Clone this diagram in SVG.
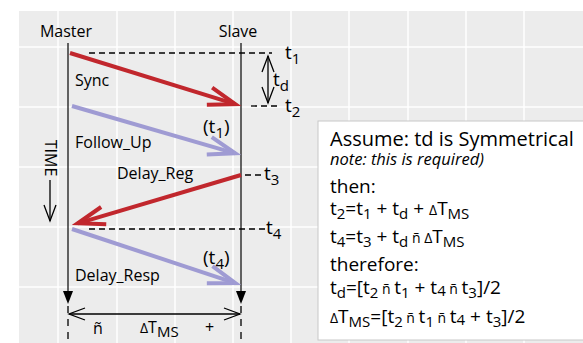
<svg xmlns="http://www.w3.org/2000/svg" width="583" height="343" viewBox="0 0 583 343">
<defs>
<style>
text{font-family:"Open Sans","Liberation Sans",sans-serif;fill:#000}
.lbl{font-size:16px}
.tl{font-size:19px}
.sb{font-size:15px}
.hd{font-size:20px}
.bd{font-size:19px}
.it{font-size:16.5px;font-style:italic}
.fs{font-size:15px}
.sm{font-size:14px}
.grid{stroke:#fff;stroke-width:1.5}
.life{stroke:#333;stroke-width:1.5;fill:none}
.dash{stroke:#000;stroke-width:1.3;stroke-dasharray:6 4;fill:none}
.thin{stroke:#000;stroke-width:1.3;fill:none}
.red{stroke:#c1272d;stroke-width:4;fill:none;marker-end:url(#ar)}
.lav{stroke:#9f9bd3;stroke-width:4;fill:none;marker-end:url(#al)}
.dbl{stroke:#000;stroke-width:1.3;fill:none;marker-start:url(#av);marker-end:url(#av)}
</style>
<marker id="ar" markerUnits="userSpaceOnUse" orient="auto" overflow="visible" refX="0" refY="0" markerWidth="40" markerHeight="40"><path d="M-27,-9 L0,0 L-27,9" fill="none" stroke="#c1272d" stroke-width="4"/></marker>
<marker id="al" markerUnits="userSpaceOnUse" orient="auto" overflow="visible" refX="0" refY="0" markerWidth="40" markerHeight="40"><path d="M-27,-9 L0,0 L-27,9" fill="none" stroke="#9f9bd3" stroke-width="4"/></marker>
<marker id="av" markerUnits="userSpaceOnUse" orient="auto-start-reverse" overflow="visible" refX="0" refY="0" markerWidth="30" markerHeight="30"><path d="M-16,-6 L0,0 L-16,6" fill="none" stroke="#000" stroke-width="1.3"/></marker>
</defs>
<g id="background">
<rect x="19" y="11" width="564" height="332" fill="#ececec"/>
<g class="grid">
<line x1="58" y1="11" x2="58" y2="343"/>
<line x1="117" y1="11" x2="117" y2="343"/>
<line x1="175" y1="11" x2="175" y2="343"/>
<line x1="233" y1="11" x2="233" y2="343"/>
<line x1="291" y1="11" x2="291" y2="343"/>
<line x1="349" y1="11" x2="349" y2="343"/>
<line x1="408" y1="11" x2="408" y2="343"/>
<line x1="466" y1="11" x2="466" y2="343"/>
<line x1="524" y1="11" x2="524" y2="343"/>
<line x1="19" y1="47" x2="583" y2="47"/>
<line x1="19" y1="107" x2="583" y2="107"/>
<line x1="19" y1="167" x2="583" y2="167"/>
<line x1="19" y1="227" x2="583" y2="227"/>
<line x1="19" y1="287" x2="583" y2="287"/>
</g>
</g>
<g id="master">
<text class="lbl" x="66" y="36.5" text-anchor="middle">Master</text>
<line class="life" x1="68" y1="43" x2="68" y2="292"/>
<path d="M63,291 L73,291 L68,304 Z" fill="#000"/>
<line class="thin" x1="68" y1="306" x2="68" y2="343" stroke-dasharray="7 6"/>
</g>
<g id="slave">
<text class="lbl" x="238" y="36.5" text-anchor="middle">Slave</text>
<line class="life" x1="241" y1="43" x2="241" y2="292"/>
<path d="M236,291 L246,291 L241,304 Z" fill="#000"/>
<line class="thin" x1="241" y1="306" x2="241" y2="343" stroke-dasharray="7 6"/>
</g>
<g id="time">
<text class="lbl" transform="translate(44.5,158) rotate(90)" text-anchor="middle">TIME</text>
<line class="thin" x1="50" y1="180" x2="50" y2="221" marker-end="url(#av)"/>
</g>
<g id="connectors">
<line class="dash" x1="89" y1="53" x2="272" y2="53"/>
<line class="dash" x1="251" y1="106" x2="281" y2="106"/>
<line class="dash" x1="245" y1="175" x2="263" y2="175"/>
<line class="dash" x1="89" y1="229" x2="265" y2="229"/>
<line class="dbl" x1="268" y1="56" x2="268" y2="103"/>
<line class="dbl" x1="69" y1="314" x2="240" y2="314"/>
<path class="red" d="M70,53 L235.3,104.2"/>
<path class="lav" d="M72,106 L235.2,153.3"/>
<path class="red" d="M241,175 L77.8,223.3"/>
<path class="lav" d="M72,229 L235.3,283.1"/>
</g>
<g id="labels">
<text class="lbl" x="75" y="86">Sync</text>
<text class="lbl" x="75" y="148">Follow_Up</text>
<text class="lbl" x="117" y="179">Delay_Reg</text>
<text class="lbl" x="75" y="281">Delay_Resp</text>
<text class="tl" x="285" y="59">t<tspan class="sb" dy="5">1</tspan></text>
<text class="tl" x="273" y="86">t<tspan class="sb" dy="5">d</tspan></text>
<text class="tl" x="285" y="112">t<tspan class="sb" dy="5">2</tspan></text>
<text class="tl" x="203" y="133">(t<tspan class="sb" dy="5">1</tspan><tspan dy="-5">)</tspan></text>
<text class="tl" x="264" y="180">t<tspan class="sb" dy="5">3</tspan></text>
<text class="tl" x="266" y="234">t<tspan class="sb" dy="5">4</tspan></text>
<text class="tl" x="203" y="264">(t<tspan class="sb" dy="5">4</tspan><tspan dy="-5">)</tspan></text>
<text class="lbl" x="93" y="334" font-size="17">ñ</text>
<text class="lbl" x="140" y="333" font-size="17"><tspan class="sm">Δ</tspan>T<tspan class="sb" dy="4">MS</tspan></text>
<text class="lbl" x="205" y="333" font-size="17">+</text>
</g>
<g id="note">
<rect x="318" y="121" width="270" height="219" fill="#fff" stroke="#c8c8c8" stroke-width="1"/>
<text class="hd" x="330" y="146">Assume: td is Symmetrical</text>
<text class="it" x="330" y="165">note: this is required)</text>
<text class="bd" x="330" y="193">then:</text>
<text class="bd" x="330" y="215">t<tspan class="fs" dy="4">2</tspan><tspan dy="-4">=t</tspan><tspan class="fs" dy="4">1</tspan><tspan dy="-4"> + t</tspan><tspan class="fs" dy="4">d</tspan><tspan dy="-4"> + </tspan><tspan class="sm">Δ</tspan>T<tspan class="fs" dy="4">MS</tspan></text>
<text class="bd" x="330" y="243">t<tspan class="fs" dy="4">4</tspan><tspan dy="-4">=t</tspan><tspan class="fs" dy="4">3</tspan><tspan dy="-4"> + t</tspan><tspan class="fs" dy="4">d</tspan><tspan class="sm" dy="-4"> ñ </tspan><tspan class="sm">Δ</tspan>T<tspan class="fs" dy="4">MS</tspan></text>
<text class="bd" x="330" y="271">therefore:</text>
<text class="bd" x="330" y="294">t<tspan class="fs" dy="4">d</tspan><tspan dy="-4">=[t</tspan><tspan class="fs" dy="4">2</tspan><tspan class="sm" dy="-4"> ñ </tspan>t<tspan class="fs" dy="4">1</tspan><tspan dy="-4"> + t</tspan><tspan class="fs" dy="2">4</tspan><tspan class="sm" dy="-2"> ñ </tspan>t<tspan class="fs" dy="4">3</tspan><tspan dy="-4">]/2</tspan></text>
<text class="bd" x="330" y="323"><tspan class="sm">Δ</tspan>T<tspan class="fs" dy="4">MS</tspan><tspan dy="-4">=[t</tspan><tspan class="fs" dy="4">2</tspan><tspan class="sm" dy="-4"> ñ </tspan>t<tspan class="fs" dy="4">1</tspan><tspan class="sm" dy="-4"> ñ </tspan>t<tspan class="fs" dy="2">4</tspan><tspan dy="-2"> + t</tspan><tspan class="fs" dy="4">3</tspan><tspan dy="-4">]/2</tspan></text>
</g>
</svg>
